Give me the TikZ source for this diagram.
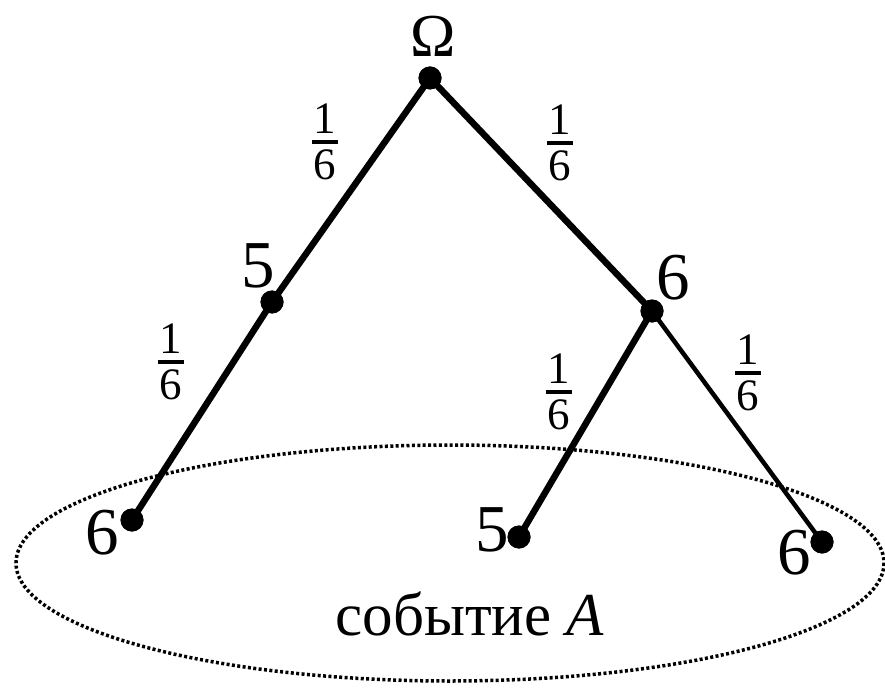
\documentclass[tikz,border=0pt]{standalone}
\usepackage{fontspec}
\setmainfont{Liberation Serif}
\newcommand{\onesix}{\vbox{\hbox to 26pt{\hss 1\hss}\kern6pt\hrule height 4pt\kern6pt\hbox to 26pt{\hss 6\hss}}}
\begin{document}
\begin{tikzpicture}[x=1pt,y=-1pt,
  dot/.style={circle,fill=black,inner sep=0pt,minimum size=23pt},
  lbl/.style={inner sep=0pt,font=\fontsize{67}{70}\selectfont},
  frl/.style={inner sep=0pt,font=\fontsize{45}{47}\selectfont},
  edge/.style={line width=6.5pt},
  thinedge/.style={line width=4.5pt}]
\useasboundingbox (0,0) rectangle (885,692);
\fill[white] (0,0) rectangle (885,692);
% event ellipse
\draw[line width=3.5pt,dash pattern=on 3pt off 2.4pt] (450,563) ellipse [x radius=434, y radius=118];
\node[inner sep=0pt,font=\fontsize{61}{64}\selectfont] (ev) at (470,614) {событие \textit{A}};
% dots
\node[dot] (r) at (430,78) {};
\node[dot] (n5) at (272,302) {};
\node[dot] (n6) at (652,311) {};
\node[dot] (l6) at (132,520) {};
\node[dot] (l5) at (519,537) {};
\node[dot] (r6) at (822,542) {};
% edges
\draw[edge] (r.center) -- (n5.center);
\draw[edge] (r.center) -- (n6.center);
\draw[edge] (n5.center) -- (l6.center);
\draw[edge] (n6.center) -- (l5.center);
\draw[thinedge] (n6.center) -- (r6.center);
% redraw dots on top
\foreach \d in {r,n5,n6,l6,l5,r6} \fill (\d) circle (11.5pt);
% labels
\node[inner sep=0pt,font=\fontsize{61}{63}\selectfont] (om) at (433,36) {Ω};
\node[lbl] (t5) at (258,266) {5};
\node[lbl] (t6) at (673,278) {6};
\node[lbl] (tl6) at (102,533) {6};
\node[lbl] (tl5) at (492,530) {5};
\node[lbl] (tr6) at (794,553) {6};
% probabilities
\node[frl] (f1) at (325,142) {\onesix};
\node[frl] (f2) at (560,143) {\onesix};
\node[frl] (f3) at (171,362) {\onesix};
\node[frl] (f4) at (559,392) {\onesix};
\node[frl] (f5) at (748,373) {\onesix};
\end{tikzpicture}
\end{document}
